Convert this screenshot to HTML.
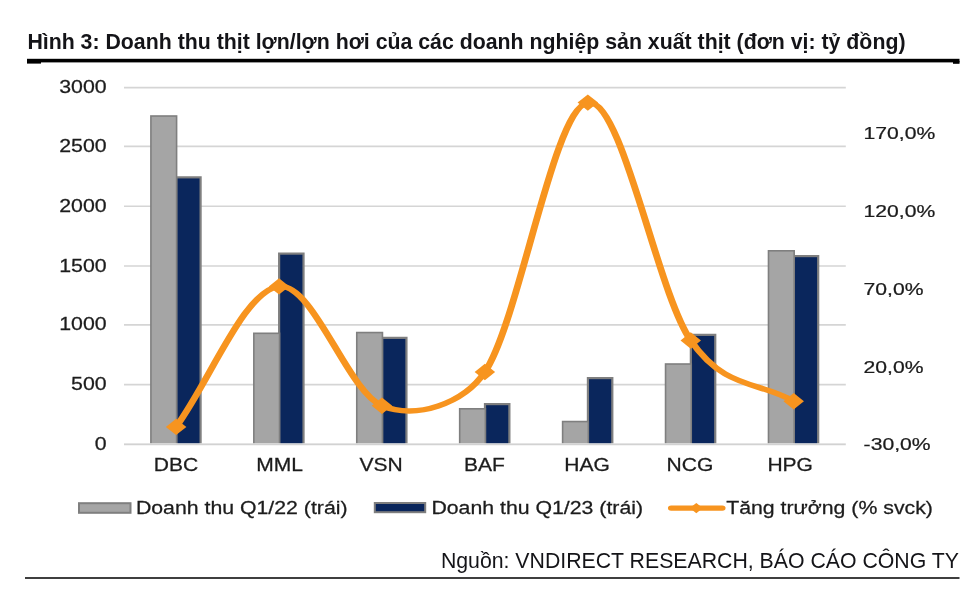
<!DOCTYPE html>
<html lang="vi"><head><meta charset="utf-8"><title>Hình 3</title>
<style>
html,body{margin:0;padding:0;background:#fff;}
body{width:975px;height:592px;overflow:hidden;position:relative;font-family:"Liberation Sans",Arial,sans-serif;}
svg{position:absolute;left:0;top:0;display:block;}
svg text{font-family:"Liberation Sans",Arial,sans-serif;}
.ct text{fill:#1c1c1c;stroke:#1c1c1c;stroke-width:0.25px;}
</style></head><body>
<svg width="975" height="592" viewBox="0 0 975 592">
<rect width="975" height="592" fill="#fff"/>

<text x="27.4" y="48.8" font-size="21.3" font-weight="bold" fill="#141418">Hình 3: Doanh thu thịt lợn/lợn hơi của các doanh nghiệp sản xuất thịt (đơn vị: tỷ đồng)</text>
<rect x="27" y="58.8" width="932.5" height="3.6" fill="#000"/>
<rect x="27" y="61" width="14" height="2.6" fill="#000"/>
<rect x="953" y="61" width="6.5" height="2.8" fill="#000"/>
<g stroke="#d5d5d5" stroke-width="1.7">
<line x1="124" x2="845.8" y1="444.30" y2="444.30"/>
<line x1="124" x2="845.8" y1="384.60" y2="384.60"/>
<line x1="124" x2="845.8" y1="324.80" y2="324.80"/>
<line x1="124" x2="845.8" y1="266.00" y2="266.00"/>
<line x1="124" x2="845.8" y1="206.25" y2="206.25"/>
<line x1="124" x2="845.8" y1="146.30" y2="146.30"/>
<line x1="124" x2="845.8" y1="87.70" y2="87.70"/>
</g>
<g stroke="#7f7f7f">
<rect x="176.20" y="177.35" width="24.40" height="269.05" fill="#0a265c" stroke-width="2.2"/>
<rect x="150.90" y="116.00" width="25.70" height="330.40" fill="#a5a5a5" stroke-width="1.6"/>
<rect x="279.13" y="253.60" width="24.40" height="192.80" fill="#0a265c" stroke-width="2.2"/>
<rect x="253.83" y="333.30" width="25.70" height="113.10" fill="#a5a5a5" stroke-width="1.6"/>
<rect x="382.06" y="337.85" width="24.40" height="108.55" fill="#0a265c" stroke-width="2.2"/>
<rect x="356.76" y="332.55" width="25.70" height="113.85" fill="#a5a5a5" stroke-width="1.6"/>
<rect x="484.99" y="404.10" width="24.40" height="42.30" fill="#0a265c" stroke-width="2.2"/>
<rect x="459.69" y="408.80" width="25.70" height="37.60" fill="#a5a5a5" stroke-width="1.6"/>
<rect x="587.92" y="378.10" width="24.40" height="68.30" fill="#0a265c" stroke-width="2.2"/>
<rect x="562.62" y="421.55" width="25.70" height="24.85" fill="#a5a5a5" stroke-width="1.6"/>
<rect x="690.85" y="334.85" width="24.40" height="111.55" fill="#0a265c" stroke-width="2.2"/>
<rect x="665.55" y="364.00" width="25.70" height="82.40" fill="#a5a5a5" stroke-width="1.6"/>
<rect x="793.78" y="256.10" width="24.40" height="190.30" fill="#0a265c" stroke-width="2.2"/>
<rect x="768.48" y="250.80" width="25.70" height="195.60" fill="#a5a5a5" stroke-width="1.6"/>
</g>
<rect x="120" y="443.40" width="730" height="6" fill="#fff"/>
<line x1="124" x2="845.8" y1="444.3" y2="444.3" stroke="#d2d2d2" stroke-width="1.7"/>
<g transform="scale(1.250 1)" fill="#f7941f">
<path d="M140.88 426.90 C168.33 380.07 195.78 289.92 223.22 286.40 C250.67 282.88 278.12 391.48 305.57 405.75 C333.02 420.02 370.92 403.28 387.91 372.00 C415.36 321.48 442.81 107.85 470.26 102.60 C497.70 97.35 525.15 290.73 552.60 340.50 C580.05 390.27 607.50 381.00 634.94 401.25" fill="none" stroke="#f7941f" stroke-width="5.5" stroke-linecap="round" stroke-linejoin="round"/>
<path d="M140.88 418.70 l8.2 8.2 l-8.2 8.2 l-8.2 -8.2z"/>
<path d="M223.22 278.20 l8.2 8.2 l-8.2 8.2 l-8.2 -8.2z"/>
<path d="M305.57 397.55 l8.2 8.2 l-8.2 8.2 l-8.2 -8.2z"/>
<path d="M387.91 363.80 l8.2 8.2 l-8.2 8.2 l-8.2 -8.2z"/>
<path d="M470.26 94.40 l8.2 8.2 l-8.2 8.2 l-8.2 -8.2z"/>
<path d="M552.60 332.30 l8.2 8.2 l-8.2 8.2 l-8.2 -8.2z"/>
<path d="M634.94 393.05 l8.2 8.2 l-8.2 8.2 l-8.2 -8.2z"/>
<line x1="536.96" x2="577.84" y1="508.1" y2="508.1" stroke="#f7941f" stroke-width="5.2" stroke-linecap="round"/>
<path d="M557.04 502.9 l5.2 5.2 l-5.2 5.2 l-5.2 -5.2z"/>
</g>
<g class="ct">
<text transform="translate(106.60 449.90) scale(1.185 1)" text-anchor="end" font-size="18.00" >0</text>
<text transform="translate(106.60 390.20) scale(1.185 1)" text-anchor="end" font-size="18.00" >500</text>
<text transform="translate(106.60 330.40) scale(1.185 1)" text-anchor="end" font-size="18.00" >1000</text>
<text transform="translate(106.60 271.60) scale(1.185 1)" text-anchor="end" font-size="18.00" >1500</text>
<text transform="translate(106.60 211.85) scale(1.185 1)" text-anchor="end" font-size="18.00" >2000</text>
<text transform="translate(106.60 151.90) scale(1.185 1)" text-anchor="end" font-size="18.00" >2500</text>
<text transform="translate(106.60 93.30) scale(1.185 1)" text-anchor="end" font-size="18.00" >3000</text>
<text transform="translate(863.60 450.30) scale(1.215 1)" text-anchor="start" font-size="17.40" >-30,0%</text>
<text transform="translate(863.60 372.50) scale(1.215 1)" text-anchor="start" font-size="17.40" >20,0%</text>
<text transform="translate(863.60 294.70) scale(1.215 1)" text-anchor="start" font-size="17.40" >70,0%</text>
<text transform="translate(863.60 216.90) scale(1.215 1)" text-anchor="start" font-size="17.40" >120,0%</text>
<text transform="translate(863.60 139.10) scale(1.215 1)" text-anchor="start" font-size="17.40" >170,0%</text>
<text transform="translate(175.90 470.70) scale(1.190 1)" text-anchor="middle" font-size="17.70" >DBC</text>
<text transform="translate(279.53 470.70) scale(1.190 1)" text-anchor="middle" font-size="17.70" >MML</text>
<text transform="translate(381.06 470.70) scale(1.190 1)" text-anchor="middle" font-size="17.70" >VSN</text>
<text transform="translate(484.49 470.70) scale(1.190 1)" text-anchor="middle" font-size="17.70" >BAF</text>
<text transform="translate(587.12 470.70) scale(1.190 1)" text-anchor="middle" font-size="17.70" >HAG</text>
<text transform="translate(689.95 470.70) scale(1.190 1)" text-anchor="middle" font-size="17.70" >NCG</text>
<text transform="translate(790.18 470.70) scale(1.190 1)" text-anchor="middle" font-size="17.70" >HPG</text>
<rect x="79" y="503.2" width="51.5" height="9.6" fill="#a5a5a5" stroke="#7f7f7f" stroke-width="2"/>
<text transform="translate(135.90 513.80) scale(1.210 1)" text-anchor="start" font-size="17.60" >Doanh thu Q1/22 (trái)</text>
<rect x="374.8" y="503" width="50.4" height="9.2" fill="#0a265c" stroke="#7f7f7f" stroke-width="2"/>
<text transform="translate(431.40 513.80) scale(1.210 1)" text-anchor="start" font-size="17.60" >Doanh thu Q1/23 (trái)</text>
<text transform="translate(726.20 513.80) scale(1.210 1)" text-anchor="start" font-size="17.60" >Tăng trưởng (% svck)</text>
</g>
<text x="958.9" y="567.7" font-size="21.27" text-anchor="end" fill="#141418">Nguồn: VNDIRECT RESEARCH, BÁO CÁO CÔNG TY</text>
<rect x="25" y="577.2" width="934.5" height="1.6" fill="#111"/>
</svg></body></html>
